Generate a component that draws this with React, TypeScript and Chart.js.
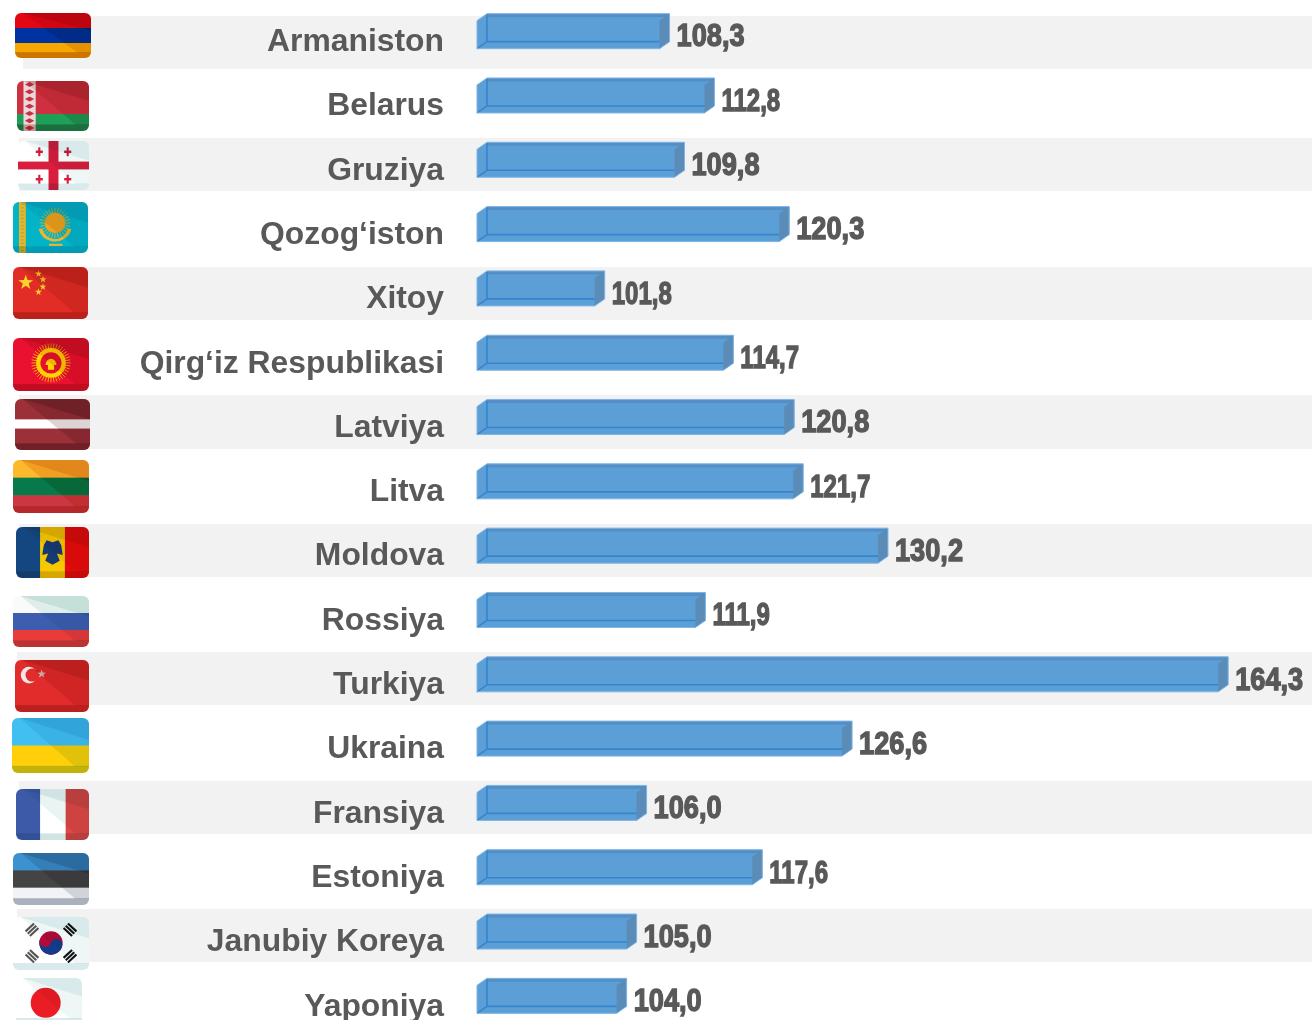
import React, { useEffect, useRef } from "react";
import { Chart, BarController, BarElement, CategoryScale, LinearScale } from "chart.js";

const categories = [
  "Armaniston", "Belarus", "Gruziya", "Qozog‘iston", "Xitoy", "Qirg‘iz Respublikasi",
  "Latviya", "Litva", "Moldova", "Rossiya", "Turkiya", "Ukraina", "Fransiya", "Estoniya",
  "Janubiy Koreya", "Yaponiya",
];
const values = [108.3, 112.8, 109.8, 120.3, 101.8, 114.7, 120.8, 121.7, 130.2, 111.9, 164.3, 126.6, 106.0, 117.6, 105.0, 104.0];
const valueLabels = ["108,3", "112,8", "109,8", "120,3", "101,8", "114,7", "120,8", "121,7", "130,2", "111,9", "164,3", "126,6", "106,0", "117,6", "105,0", "104,0"];

const TEXT = "#595959";
const BAR = "#5b9fd6";
const X_MIN = 89;
const CANVAS_SHIFT = 1; // the canvas starts this far above the page top
const CANVAS_H = 1029;

// zebra bands [x, top, bottom], page coordinates
const bands = [
  [23, 16, 69], [19, 138, 191], [19, 267, 320], [19, 395, 449],
  [19, 524, 577], [17, 652, 705], [19, 781, 834], [17, 909, 962],
];
// flag boxes [x0, y0, x1, y1], page coordinates, in category order
const flagBoxes = [
  [15, 13, 91, 58], [17, 81, 89, 131], [18, 141, 89, 190], [13, 202, 88, 253],
  [13, 267, 88, 319], [13, 338, 89, 391], [15, 399, 90, 450], [13, 460, 89, 513],
  [16, 527, 89, 578], [13, 596, 89, 647], [15, 660, 89, 712], [12, 718, 89, 773],
  [16, 789, 89, 840], [13, 853, 89, 905], [13, 917, 89, 970], [16, 978, 82, 1024],
];

class Bar3D extends (BarElement as any) {
  static id = "bar3d";
  draw(ctx: CanvasRenderingContext2D) {
    const { x, y, base, height } = (this as any).getProps(["x", "y", "base", "height"], true);
    const o = (this as any).options;
    const dx = 10, dy = 7;
    const top = y - height / 2, bot = y + height / 2;
    const l = base, r = x;
    ctx.save();
    // silhouette
    const hex = new Path2D();
    hex.moveTo(l, top + dy);
    hex.lineTo(l + dx, top);
    hex.lineTo(r, top);
    hex.lineTo(r, bot - dy);
    hex.lineTo(r - dx, bot);
    hex.lineTo(l, bot);
    hex.closePath();
    ctx.fillStyle = o.backgroundColor;
    ctx.fill(hex);
    // top inner shade
    ctx.fillStyle = "rgba(70,115,165,0.36)";
    ctx.fillRect(l + dx, top, r - l - dx, 3.5);
    // right face
    ctx.fillStyle = "#5b8cb8";
    ctx.beginPath();
    ctx.moveTo(r, top); ctx.lineTo(r, bot - dy); ctx.lineTo(r - dx, bot); ctx.lineTo(r - dx, top + dy); ctx.closePath();
    ctx.fill();
    // inner back edges
    ctx.strokeStyle = "#3585cd";
    ctx.lineWidth = 1.6;
    ctx.beginPath();
    ctx.moveTo(l + dx, top + 1); ctx.lineTo(l + dx, bot - dy);
    ctx.lineTo(r - dx, bot - dy);
    ctx.moveTo(l + dx, bot - dy); ctx.lineTo(l, bot);
    ctx.stroke();
    // outline
    ctx.strokeStyle = "#7db6e6";
    ctx.lineWidth = 1;
    ctx.stroke(hex);
    ctx.restore();
  }
}

class Bar3DController extends BarController {
  static id = "bar3dBar";
  static defaults = { ...(BarController as any).defaults, dataElementType: "bar3d" };
}

function star(c: CanvasRenderingContext2D, x: number, y: number, r: number, color: string) {
  c.fillStyle = color;
  c.beginPath();
  for (let i = 0; i < 10; i++) {
    const a = -Math.PI / 2 + (i * Math.PI) / 5;
    const q = i % 2 ? r * 0.4 : r;
    c.lineTo(x + Math.cos(a) * q, y + Math.sin(a) * q);
  }
  c.closePath();
  c.fill();
}
function hStripes(c: CanvasRenderingContext2D, colors: string[], fr?: number[]) {
  let y = 0;
  colors.forEach((col, i) => {
    const h = fr ? fr[i] : 1 / colors.length;
    c.fillStyle = col;
    c.fillRect(0, y, 1, h + 0.01);
    y += h;
  });
}
function vStripes(c: CanvasRenderingContext2D, colors: string[], fr: number[]) {
  let x = 0;
  colors.forEach((col, i) => {
    c.fillStyle = col;
    c.fillRect(x, 0, fr[i] + 0.01, 1);
    x += fr[i];
  });
}
function sun(c: CanvasRenderingContext2D, x: number, y: number, ry: number, rays: number, col: string, asp: number) {
  c.strokeStyle = col;
  c.lineWidth = 0.012;
  c.beginPath();
  for (let i = 0; i < rays; i++) {
    const a = (i * 2 * Math.PI) / rays;
    c.moveTo(x, y);
    c.lineTo(x + (Math.cos(a) * ry) / asp, y + Math.sin(a) * ry);
  }
  c.stroke();
}

// each painter draws in a unit square, with asp = width / height
const flagPainters: ((c: CanvasRenderingContext2D, asp: number) => void)[] = [
  (c) => hStripes(c, ["#e30613", "#0033a0", "#f7a800"]),
  (c) => {
    hStripes(c, ["#cf3040", "#cf3040", "#1f9e58"], [0.37, 0.29, 0.34]);
    c.fillStyle = "#ead9dc";
    c.fillRect(0.09, 0, 0.17, 1);
    c.fillStyle = "#c93040";
    for (let i = 0; i < 7; i++) {
      c.beginPath();
      const y = 0.07 + i * 0.145;
      c.moveTo(0.175, y - 0.05); c.lineTo(0.24, y); c.lineTo(0.175, y + 0.05); c.lineTo(0.11, y);
      c.fill();
    }
  },
  (c) => {
    c.fillStyle = "#ffffff"; c.fillRect(0, 0, 1, 1);
    c.fillStyle = "#d81e3c";
    c.fillRect(0.43, 0, 0.14, 1);
    c.fillRect(0, 0.42, 1, 0.16);
    [[0.3, 0.22], [0.7, 0.22], [0.3, 0.78], [0.7, 0.78]].forEach(([x, y]) => {
      c.fillRect(x - 0.015, y - 0.09, 0.03, 0.18);
      c.fillRect(x - 0.05, y - 0.025, 0.1, 0.05);
    });
  },
  (c, asp) => {
    c.fillStyle = "#02b4c8"; c.fillRect(0, 0, 1, 1);
    c.fillStyle = "#f5b21d";
    c.fillRect(0.08, 0, 0.09, 1);
    c.fillStyle = "#7fb874";
    for (let i = 0; i < 14; i++) { c.fillRect(0.105, 0.03 + i * 0.07, 0.04, 0.025); }
    sun(c, 0.56, 0.41, 0.3, 28, "#f5b21d", asp);
    c.fillStyle = "#f9a11b";
    c.beginPath(); c.ellipse(0.56, 0.41, 0.2 / asp, 0.2, 0, 0, 7); c.fill();
    c.strokeStyle = "#eeb52e"; c.lineWidth = 0.05;
    c.beginPath(); c.ellipse(0.56, 0.45, 0.2, 0.3, 0, 0.25, Math.PI - 0.25); c.stroke();
    c.fillStyle = "#eeb52e"; c.fillRect(0.48, 0.82, 0.18, 0.04);
  },
  (c, asp) => {
    c.fillStyle = "#e22d27"; c.fillRect(0, 0, 1, 1);
    c.save(); c.scale(1 / asp, 1);
    star(c, 0.17 * asp, 0.3, 0.15, "#f9d22a");
    star(c, 0.34 * asp, 0.13, 0.07, "#f9d22a");
    star(c, 0.4 * asp, 0.24, 0.07, "#f9d22a");
    star(c, 0.4 * asp, 0.38, 0.07, "#f9d22a");
    star(c, 0.34 * asp, 0.48, 0.07, "#f9d22a");
    c.restore();
  },
  (c, asp) => {
    c.fillStyle = "#ea1030"; c.fillRect(0, 0, 1, 1);
    sun(c, 0.5, 0.47, 0.37, 40, "#ffd400", asp);
    c.fillStyle = "#ffd400";
    c.beginPath(); c.ellipse(0.5, 0.47, 0.28 / asp, 0.28, 0, 0, 7); c.fill();
    c.fillStyle = "#e8102c";
    c.beginPath(); c.ellipse(0.5, 0.47, 0.2 / asp, 0.2, 0, 0, 7); c.fill();
    c.fillStyle = "#ffd400";
    c.beginPath(); c.ellipse(0.5, 0.51, 0.1 / asp, 0.12, 0, Math.PI, 0); c.fill();
    c.fillRect(0.46, 0.5, 0.08, 0.1);
  },
  (c) => hStripes(c, ["#9c3039", "#ffffff", "#9c3039"], [0.4, 0.18, 0.42]),
  (c) => hStripes(c, ["#fdb92c", "#07794a", "#cc3542"]),
  (c) => {
    vStripes(c, ["#14477f", "#f5c800", "#e40a0a"], [0.33, 0.34, 0.33]);
    c.fillStyle = "#163a74";
    c.beginPath();
    c.moveTo(0.5, 0.3); c.lineTo(0.42, 0.26); c.lineTo(0.38, 0.36); c.lineTo(0.36, 0.55);
    c.lineTo(0.44, 0.52); c.lineTo(0.4, 0.66); c.lineTo(0.5, 0.74); c.lineTo(0.6, 0.66);
    c.lineTo(0.56, 0.52); c.lineTo(0.64, 0.55); c.lineTo(0.62, 0.36); c.lineTo(0.58, 0.26);
    c.closePath(); c.fill();
  },
  (c) => hStripes(c, ["#f8fbfa", "#3d5eb0", "#ea3a3a"]),
  (c, asp) => {
    c.fillStyle = "#e22b2b"; c.fillRect(0, 0, 1, 1);
    c.save(); c.scale(1 / asp, 1);
    c.fillStyle = "#f4e6e6";
    c.beginPath(); c.arc(0.19 * asp, 0.29, 0.16, 0, 7); c.fill();
    c.fillStyle = "#e22b2b";
    c.beginPath(); c.arc(0.23 * asp, 0.29, 0.125, 0, 7); c.fill();
    star(c, 0.36 * asp, 0.27, 0.085, "#d8c4c4");
    c.restore();
  },
  (c) => hStripes(c, ["#40bff0", "#ffcf0a"]),
  (c) => {
    vStripes(c, ["#3c5aa8", "#ffffff", "#e24545"], [0.33, 0.35, 0.32]);
  },
  (c) => hStripes(c, ["#3c92d0", "#444444", "#f2f3f6"]),
  (c, asp) => {
    c.fillStyle = "#ffffff"; c.fillRect(0, 0, 1, 1);
    c.save(); c.scale(1 / asp, 1);
    const cx = 0.5 * asp, cy = 0.49, r = 0.22;
    c.fillStyle = "#b40a38";
    c.beginPath(); c.arc(cx, cy, r, 0, 7); c.fill();
    c.fillStyle = "#133c8c";
    c.beginPath(); c.arc(cx, cy, r, 0.3, 0.3 + Math.PI); c.fill();
    c.fillStyle = "#b40a38";
    c.beginPath(); c.arc(cx - r * 0.47, cy - r * 0.15, r * 0.5, 0, 7); c.fill();
    c.fillStyle = "#133c8c";
    c.beginPath(); c.arc(cx + r * 0.47, cy + r * 0.15, r * 0.5, 0, 7); c.fill();
    const trig: [number, number, number, string][] = [
      [-0.25, -0.25, -0.75, "#555"], [0.25, -0.25, 0.75, "#111"],
      [-0.25, 0.25, 0.75, "#555"], [0.25, 0.25, -0.75, "#111"],
    ];
    trig.forEach(([ox, oy, rot, col]) => {
      c.save();
      c.translate(cx + ox * asp, cy + oy);
      c.rotate(rot);
      c.fillStyle = col;
      for (let i = -1; i <= 1; i++) c.fillRect(-0.11, i * 0.06 - 0.02, 0.22, 0.04);
      c.restore();
    });
    c.restore();
  },
  (c) => {
    c.fillStyle = "#ffffff"; c.fillRect(0, 0, 1, 1);
    c.fillStyle = "#ec1c24";
    c.beginPath(); c.ellipse(0.45, 0.54, 0.227, 0.326, 0, 0, 7); c.fill();
  },
];
// multiply tints [right of diagonal, top corner and bottom strip]
const warm = ["#ecdcd8", "#e4d0cc"];
const pale = ["#eef6f6", "#e8f3f4"];
const flagShades = [
  warm, warm, pale, ["#e0eef2", "#dcecf0"], warm, warm,
  ["#dcd4d4", "#d4cccc"], ["#f2dcc8", "#f0d8c8"], ["#f2eeec", "#eae4e2"], ["#e6f2ef", "#e2f0ec"], warm,
  ["#e2eef4", "#dcecf2"], ["#eaf4f3", "#e4eeee"], ["#dcdee2", "#d2d6dc"], pale, pale,
];

function drawFlag(ctx: CanvasRenderingContext2D, i: number) {
  const [x0, y0, x1, y1] = flagBoxes[i];
  const w = x1 - x0, h = y1 - y0;
  ctx.save();
  ctx.beginPath();
  ctx.roundRect(x0, y0, w, h, 6);
  ctx.clip();
  ctx.translate(x0, y0);
  ctx.scale(w, h);
  flagPainters[i](ctx, w / h);
  const [s1, s2] = flagShades[i];
  ctx.globalCompositeOperation = "multiply";
  ctx.fillStyle = s1;
  ctx.beginPath();
  ctx.moveTo(0.1, 0); ctx.lineTo(0.82, 0.88); ctx.lineTo(1, 0.88); ctx.lineTo(1, 0); ctx.closePath();
  ctx.fill();
  ctx.fillRect(0, 0.87, 1, 0.13);
  ctx.fillStyle = s2;
  ctx.beginPath();
  ctx.moveTo(0.1, 0); ctx.lineTo(1, 0.4); ctx.lineTo(1, 0); ctx.closePath();
  ctx.fill();
  ctx.fillRect(0, 0.87, 1, 0.13);
  ctx.restore();
}

const decoPlugin = {
  id: "deco",
  beforeDraw(chart: any) {
    const c: CanvasRenderingContext2D = chart.ctx;
    c.save();
    c.translate(0, CANVAS_SHIFT);
    c.fillStyle = "#f2f2f2";
    bands.forEach(([x, t, b]) => c.fillRect(x, t, chart.width - x, b - t));
    categories.forEach((_, i) => drawFlag(c, i));
    c.restore();
  },
  afterDatasetsDraw(chart: any) {
    const c: CanvasRenderingContext2D = chart.ctx;
    chart.getDatasetMeta(0).data.forEach((el: any, i: number) => {
      const label = valueLabels[i];
      // the reference's condensed face sets the digit 1 narrow, so labels with several 1s are tighter
      const ones = label.split("1").length - 1;
      c.save();
      c.translate(el.x + 7, el.y + 6.5);
      c.scale(ones >= 2 ? 0.75 : 0.85, 1);
      c.font = 'bold 32px "Liberation Sans", Arial, sans-serif';
      c.fillStyle = TEXT;
      c.strokeStyle = TEXT;
      c.lineWidth = 1.4;
      c.textAlign = "left";
      c.textBaseline = "middle";
      c.fillText(label, 0, 0);
      c.strokeText(label, 0, 0);
      c.restore();
    });
  },
};

Chart.register(BarController, BarElement, CategoryScale, LinearScale, Bar3D as any, Bar3DController as any);

export default function App() {
  const ref = useRef<HTMLCanvasElement>(null);
  useEffect(() => {
    document.body.style.margin = "0";
    const chart = new Chart(ref.current!, {
      type: "bar3dBar" as any,
      data: {
        labels: categories,
        datasets: [{
          data: values,
          base: X_MIN,
          backgroundColor: BAR,
          barThickness: 35,
          clip: false,
        }],
      },
      plugins: [decoPlugin],
      options: {
        indexAxis: "y",
        animation: false,
        responsive: false,
        events: [],
        layout: { autoPadding: false, padding: { top: 0, bottom: 0, left: 0, right: 27 } },
        plugins: {},
        scales: {
          x: { display: false, type: "linear", min: X_MIN, max: 170 },
          y: {
            type: "category",
            offset: true,
            grid: { display: false, drawTicks: false },
            border: { display: false },
            afterFit: (s: any) => { s.width = 477; s.paddingTop = 0; s.paddingBottom = 0; },
            ticks: {
              autoSkip: false,
              padding: 33,
              labelOffset: 11,
              color: TEXT,
              font: { family: '"Liberation Sans", Arial, sans-serif', weight: "bold", size: 31.85 },
            },
          },
        },
      } as any,
    });
    return () => chart.destroy();
  }, []);
  return (
    <div style={{ width: 1312, height: 1020, overflow: "hidden", position: "relative" }}>
      <canvas
        ref={ref}
        width={1312}
        height={CANVAS_H}
        style={{ display: "block", position: "absolute", left: 0, top: -CANVAS_SHIFT, width: 1312, height: CANVAS_H }}
      />
    </div>
  );
}
